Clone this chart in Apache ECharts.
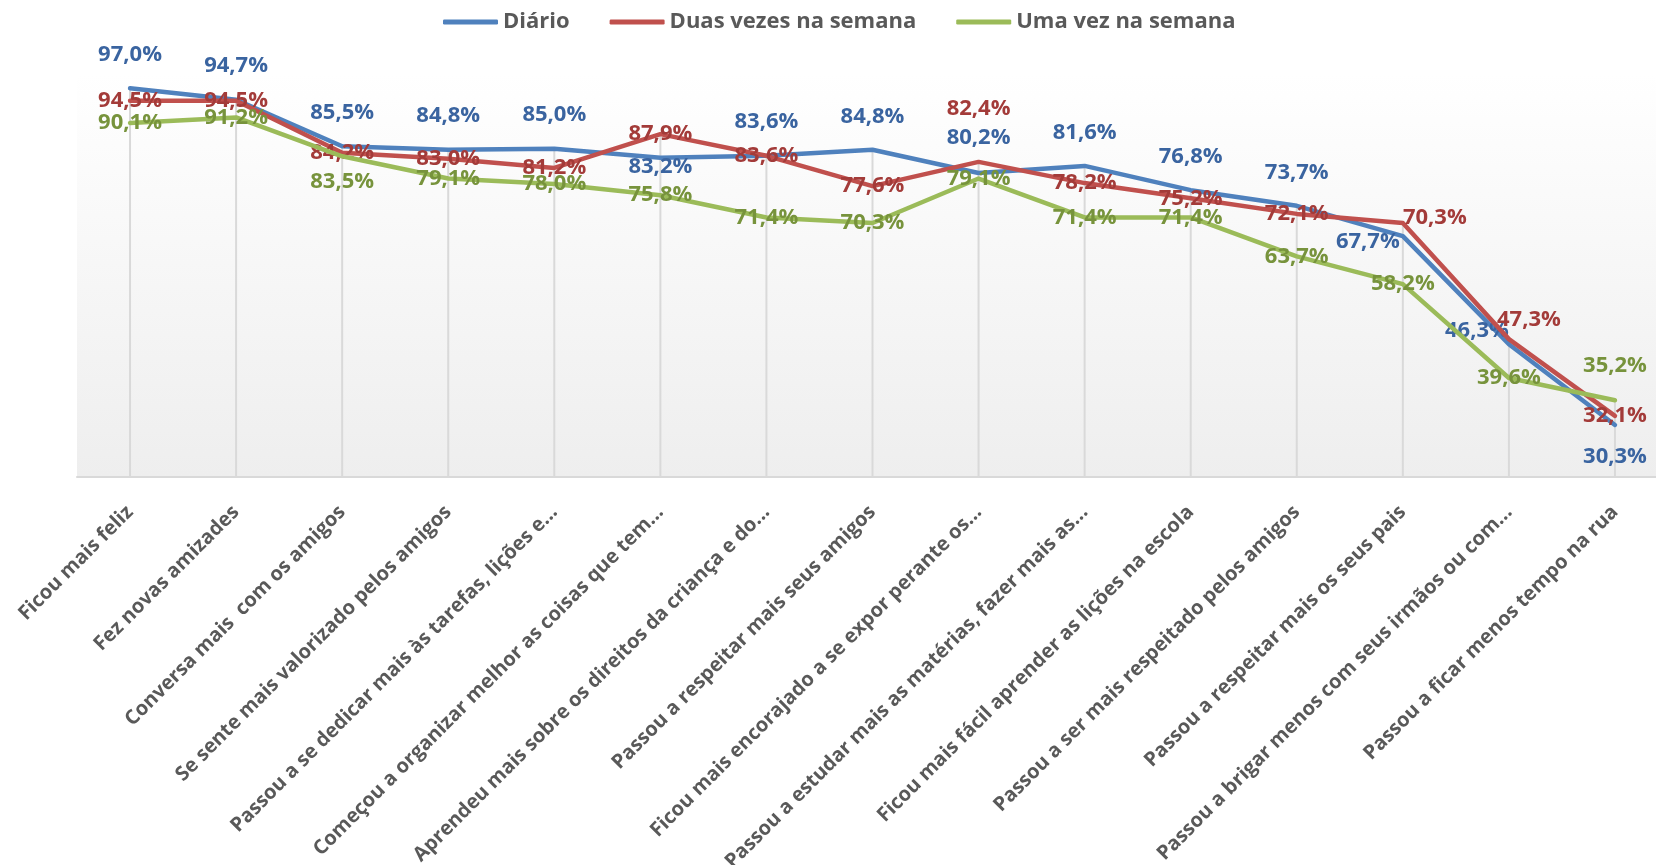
<!DOCTYPE html>
<html>
<head>
<meta charset="utf-8">
<script src="https://cdn.jsdelivr.net/npm/echarts@6/dist/echarts.min.js"></script>
<style>
  html, body { margin: 0; padding: 0; background: #fff; }
  #chart { width: 1656px; height: 865px; }
</style>
</head>
<body>
<div id="chart"></div>
<script>
const categories = [
  'Ficou mais feliz',
  'Fez novas amizades',
  'Conversa mais  com os amigos',
  'Se sente mais valorizado pelos amigos',
  'Passou a se dedicar mais às tarefas, lições e...',
  'Começou a organizar melhor as coisas que tem...',
  'Aprendeu mais sobre os direitos da criança e do...',
  'Passou a respeitar mais seus amigos',
  'Ficou mais encorajado a se expor perante os...',
  'Passou a estudar mais as matérias, fazer mais as...',
  'Ficou mais fácil aprender as lições na escola',
  'Passou a ser mais respeitado pelos amigos',
  'Passou a respeitar mais os seus pais',
  'Passou a brigar menos com seus irmãos ou com...',
  'Passou a ficar menos tempo na rua'
]

const seriesNames = ['Diário', 'Duas vezes na semana', 'Uma vez na semana']

const diario = [97.0, 94.7, 85.5, 84.8, 85.0, 83.2, 83.6, 84.8, 80.2, 81.6, 76.8, 73.7, 67.7, 46.3, 30.3]
const duasVezes = [94.5, 94.5, 84.2, 83.0, 81.2, 87.9, 83.6, 77.6, 82.4, 78.2, 75.2, 72.1, 70.3, 47.3, 32.1]
const umaVez = [90.1, 91.2, 83.5, 79.1, 78.0, 75.8, 71.4, 70.3, 79.1, 71.4, 71.4, 63.7, 58.2, 39.6, 35.2]

// label placement (pixel offsets from each point), kept apart from the data
const diarioOffsets = [
  [0, -33], [0, -34], [0, -33], [0, -34], [0, -34], [0, 9], [0, -34], [0, -33],
  [0, -35], [0, -33], [0, -33], [0, -33], [-35, 6], [-32, -13], [0, 32]
]
const duasOffsets = [
  [0, 0], [0, 0], [0, 0], [0, 0], [0, 0], [0, 0], [0, 0], [0, 0],
  [0, -53], [0, 0], [0, 0], [0, 0], [32, -5], [20, -19], [0, 0]
]
const umaOffsets = [
  [0, 0], [0, 0], [0, 25], [0, 0], [0, 0], [0, 0], [0, 0], [0, 0],
  [0, 0], [0, 0], [0, 0], [0, 0], [0, 0], [0, 0], [0, -35]
]

const lineColors = ['#4f81bd', '#c0504d', '#9bbb59']
const labelColors = ['#3a64a0', '#a33b39', '#77933c']
const FONT = '"Open Sans", "Liberation Sans", sans-serif'

const fmt = (v) => v.toFixed(1).replace('.', ',') + '%'

function lineSeries(name, values, offsets, idx) {
  return {
    name: name,
    type: 'line',
    z: 3 + idx,
    symbol: 'circle',
    symbolSize: 1,
    showSymbol: true,
    lineStyle: { width: 4.5, color: lineColors[idx], join: 'round', cap: 'round' },
    itemStyle: { color: lineColors[idx] },
    emphasis: { disabled: true },
    data: values.map((v, i) => ({
      value: v,
      label: { offset: offsets[i] },
    })),
    label: {
      show: true,
      position: 'inside',
      formatter: (p) => fmt(p.value),
      color: labelColors[idx],
      fontFamily: FONT,
      fontWeight: 'bold',
      fontSize: 22,
    },
  }
}

// drop lines: from the highest of the three series down to the axis
const dropTops = categories.map((c, i) => Math.max(diario[i], duasVezes[i], umaVez[i]))

const chart = echarts.init(document.getElementById('chart'))

chart.setOption({
  animation: false,
  backgroundColor: '#ffffff',
  legend: {
    data: seriesNames,
    left: 438,
    top: 6,
    icon: 'roundRect',
    itemWidth: 55,
    itemHeight: 5,
    itemGap: 40,
    textStyle: {
      color: '#595959',
      fontFamily: FONT,
      fontWeight: 'bold',
      fontSize: 22,
    },
  },
  grid: {
    left: 77,
    top: 73,
    right: -12,
    bottom: 388,
    outerBoundsMode: 'none',
    containLabel: false,
    show: true,
    borderWidth: 0,
    backgroundColor: {
      type: 'linear',
      x: 0, y: 0, x2: 0, y2: 1,
      colorStops: [
        { offset: 0, color: '#ffffff' },
        { offset: 1, color: '#eeeeee' },
      ],
    },
  },
  xAxis: {
    type: 'category',
    data: categories,
    boundaryGap: true,
    axisLine: { lineStyle: { color: '#d9d9d9', width: 2 } },
    axisTick: { show: false },
    axisLabel: {
      interval: 0,
      rotate: 45,
      margin: 32,
      color: '#595959',
      fontFamily: FONT,
      fontWeight: 'bold',
      fontSize: 20,
    },
  },
  yAxis: {
    type: 'value',
    min: 20,
    max: 100,
    show: false,
    splitLine: { show: false },
  },
  series: [
    {
      name: 'drop',
      type: 'bar',
      barWidth: 2,
      silent: true,
      z: 1,
      itemStyle: { color: '#d9d9d9' },
      data: dropTops,
    },
    lineSeries(seriesNames[0], diario, diarioOffsets, 0),
    lineSeries(seriesNames[1], duasVezes, duasOffsets, 1),
    lineSeries(seriesNames[2], umaVez, umaOffsets, 2),
  ],
})
</script>
</body>
</html>
